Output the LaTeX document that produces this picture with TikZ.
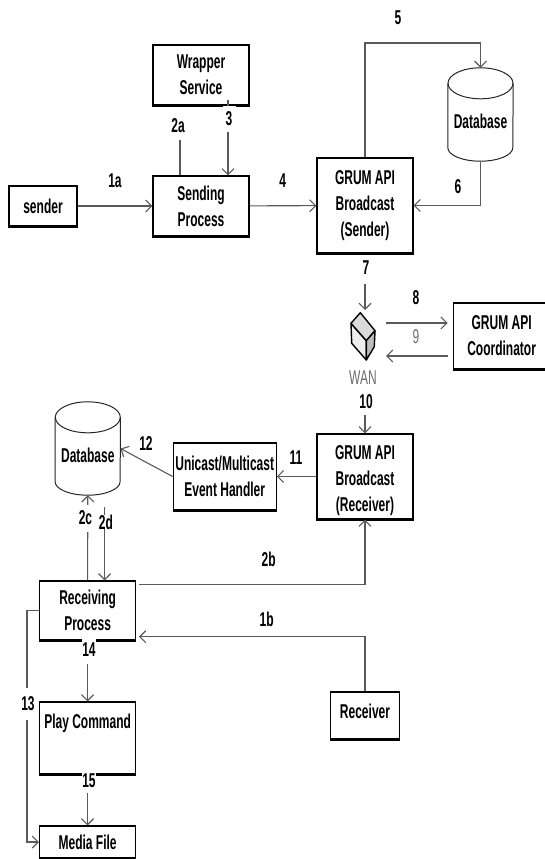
\documentclass[tikz,border=0pt]{standalone}
\usepackage{fontspec}
\setmainfont[FakeStretch=0.6]{Liberation Sans}
\usetikzlibrary{arrows.meta, calc}
\definecolor{cline}{HTML}{5A5A5A}
\definecolor{cgray}{HTML}{6E6E6E}
\definecolor{cubeleft}{HTML}{EEEEEE}
\definecolor{cubetop}{HTML}{DADADA}
\definecolor{cuberight}{HTML}{BDBDBD}
\tikzset{
  box/.style={draw=black, line width=1.2pt, rectangle, align=center, inner sep=0pt,
    font=\fontsize{20}{26}\selectfont\bfseries},
  dbase/.style={rectangle, minimum width=65pt, minimum height=93pt, inner sep=0pt,
    text height=27pt, text depth=0pt, font=\fontsize{20}{26}\selectfont\bfseries},
  dbline/.style={draw=black!85, line width=1pt},
  conn/.style={draw=cline, line width=1.1pt, -{Straight Barb[length=6pt,width=12pt]}},
  plainconn/.style={draw=cline, line width=1.1pt},
  tag/.style={inner sep=0pt, font=\fontsize{20}{22}\selectfont\bfseries},
  gap/.style={tag, fill=white, minimum width=13pt},
  cubeface/.style={draw=black, line width=1.4pt, line join=round}
}
\begin{document}
\begin{tikzpicture}[x=1pt, y=-1pt]
  \useasboundingbox (0,0) rectangle (545,859);
  % upper half
  \node[box, minimum width=68pt, minimum height=40pt] (sender) at (43,206) {sender};
  \node[box, minimum width=96pt, minimum height=60pt] (wrapper) at (201,75) {Wrapper\\Service};
  \node[box, minimum width=96pt, minimum height=60pt] (sending) at (201,206) {Sending\\Process};
  \node[box, minimum width=96pt, minimum height=95pt] (bsend) at (365,205.5) {GRUM API\\Broadcast\\(Sender)};
  \node[dbase] (dbsend) at (480.5,114.5) {Database};
  \node[box, minimum width=96pt, minimum height=66pt] (coord) at (501.6,336) {GRUM API\\Coordinator};
  % lower half
  \node[box, minimum width=96pt, minimum height=85pt] (brecv) at (365,476.5) {\rule{0pt}{23pt}GRUM API\\Broadcast\\(Receiver)};
  \node[box, minimum width=103pt, minimum height=67pt] (handler) at (224.7,476.5) {Unicast/Multicast\\Event Handler};
  \node[dbase] (dbrecv) at (87.8,448.5) {Database};
  \node[box, minimum width=96pt, minimum height=59pt] (recv) at (87.6,610.5) {Receiving\\Process};
  \node[box, minimum width=96pt, minimum height=72pt] (play) at (87.6,738) {Play Command\\[8pt]~};
  \node[box, minimum width=96pt, minimum height=32pt] (media) at (87.6,842) {Media File};
  \node[box, minimum width=69pt, minimum height=47pt, text depth=9pt] (receiver) at (365,715.5) {Receiver};
  % heavier lower edges
  \foreach \b in {sender,wrapper,sending,bsend,coord,brecv,handler,recv,play,receiver}{
    \draw[black, line width=2pt] (\b.south west) -- (\b.south east);
  }
  % database outlines
  \foreach \d in {dbsend,dbrecv}{
    \draw[dbline] ([yshift=-15.5pt]\d.north) ellipse [x radius=32.5pt, y radius=15.5pt];
    \draw[dbline] ([yshift=-15.5pt]\d.north west) -- ([yshift=13.5pt]\d.south west)
      arc [start angle=180, end angle=360, x radius=32.5pt, y radius=13.5pt]
      -- ([yshift=-15.5pt]\d.north east);
  }

  % WAN cube
  \coordinate (ctop) at (360.3,312.7);
  \coordinate (cright) at (375,330.7);
  \coordinate (crlow) at (374.3,346.7);
  \coordinate (cbot) at (366.3,360);
  \coordinate (clow) at (351.7,343.3);
  \coordinate (cleft) at (351,323.3);
  \coordinate (cmid) at (366.3,340.7);
  \filldraw[cubeface, fill=cubeleft] (cleft) -- (cmid) -- (cbot) -- (clow) -- cycle;
  \filldraw[cubeface, fill=cubetop] (ctop) -- (cright) -- (cmid) -- (cleft) -- cycle;
  \filldraw[cubeface, fill=cuberight] (cright) -- (crlow) -- (cbot) -- (cmid) -- cycle;
  \node[inner sep=0pt, font=\fontsize{20}{22}\selectfont, cgray] (wan) at (363,378) {WAN};

  % free ends
  \coordinate (twoatop) at (180,140);
  \coordinate (threetop) at (228,100);
  \coordinate (seventop) at (365,284);
  \coordinate (seventip) at (365,310);
  \coordinate (eightl) at (386,323);
  \coordinate (eightr) at (447.7,323);
  \coordinate (ninel) at (386,356);
  \coordinate (niner) at (447.7,356);
  \coordinate (tentop) at (365,415);
  \coordinate (twodtop) at (104.6,507);
  \coordinate (cfive) at (420,43);
  \coordinate (twobs) at (139,584.7);
  \coordinate (onebe) at (139,636.7);
  \coordinate (cthirteen) at (27,610.5);

  % connectors
  \draw[conn] (sender) -- (sending);
  \draw[conn] (sending) -- (bsend);
  \draw[plainconn] (twoatop) -- (twoatop |- sending.north);
  \draw[conn] (threetop) -- (threetop |- sending.north);
  \draw[conn] (bsend.north) |- (cfive) -| (dbsend.north);
  \draw[conn] (dbsend.south) |- (bsend.east);
  \draw[conn] (seventop) -- (seventip);
  \draw[conn] (eightl) -- (eightr);
  \draw[conn] (niner) -- (ninel);
  \draw[conn] (tentop) -- (brecv.north);
  \draw[conn] (brecv.west) -- (handler.east);
  \draw[conn] (handler.west) -- (dbrecv.east);
  \draw[conn] (recv.north) -- (dbrecv.south);
  \draw[conn] (twodtop) -- (twodtop |- recv.north);
  \draw[conn] (twobs) -| (brecv.south);
  \draw[conn] (receiver.north) |- (onebe);
  \draw[conn] (recv.south) -- (play.north);
  \draw[conn] (play.south) -- (media.north);
  \draw[conn] (recv.west) -- (cthirteen) |- (media.west);

  % numbers
  \node[tag] (n1a) at (115,181) {1a};
  \node[tag] (n1b) at (266.6,619) {1b};
  \node[tag] (n2a) at (178,126) {2a};
  \node[tag] (n2b) at (268.7,559) {2b};
  \node[gap, minimum height=27pt] (n2c) at (85.5,518) {2c};
  \node[gap, minimum height=14pt] (n2d) at (106,522) {2d};
  \node[gap, minimum height=26pt] (n3) at (229,119) {3};
  \node[tag] (n4) at (282.6,181) {4};
  \node[tag] (n5) at (398,18) {5};
  \node[tag] (n6) at (458,187) {6};
  \node[tag] (n7) at (366,268) {7};
  \node[tag] (n8) at (416,298) {8};
  \node[inner sep=0pt, font=\fontsize{20}{22}\selectfont, cgray] (n9) at (416,337) {9};
  \node[tag] (n10) at (366,402) {10};
  \node[tag] (n11) at (296,458) {11};
  \node[tag] (n12) at (146,444) {12};
  \node[gap, minimum height=32pt] (n13) at (28,704) {13};
  \node[gap, minimum height=28pt] (n14) at (89,650) {14};
  \node[gap, minimum height=23pt] (n15) at (89,781) {15};
\end{tikzpicture}
\end{document}
